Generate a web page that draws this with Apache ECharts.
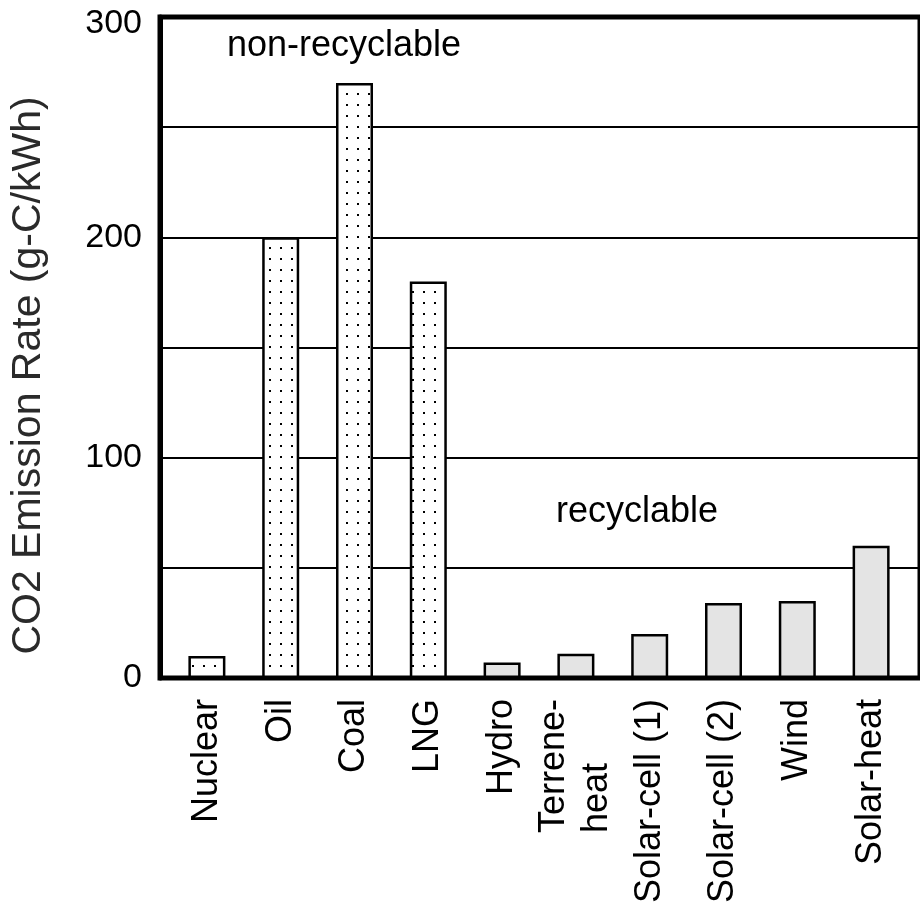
<!DOCTYPE html>
<html><head><meta charset="utf-8">
<script src="https://cdn.jsdelivr.net/npm/echarts@6/dist/echarts.min.js"></script>
<style>html,body{margin:0;padding:0;background:#fff}#c{width:920px;height:909px}</style>
</head><body><div id="c"></div>
<script>
// ---- data ----
const categories = ['Nuclear','Oil','Coal','LNG','Hydro','Terrene-\nheat','Solar-cell (1)','Solar-cell (2)','Wind','Solar-heat'];
const emissions = [10, 200, 270, 180, 7, 11, 20, 34, 35, 60];
const isRecyclable = [false, false, false, false, true, true, true, true, true, true];
const yMin = 0, yMax = 300, yStep = 50, yLabelStep = 100;
const yAxisTitle = 'CO2 Emission Rate (g-C/kWh)';
const groupLabels = ['non-recyclable', 'recyclable'];

// ---- styles ----
const pc = document.createElement('canvas');
pc.width = 11; pc.height = 11;
const pctx = pc.getContext('2d');
pctx.fillStyle = '#fff'; pctx.fillRect(0, 0, 11, 11);
pctx.fillStyle = '#000'; pctx.fillRect(5, 5, 2, 2);
const dotted = { image: pc, repeat: 'repeat' };
const lightGray = '#e4e4e4';
const FONT = 'Liberation Sans';

const chart = echarts.init(document.getElementById('c'), null, { renderer: 'canvas' });

const barData = emissions.map((v, i) => ({
  value: v,
  itemStyle: { color: isRecyclable[i] ? lightGray : dotted, borderColor: '#000', borderWidth: 2.5 }
}));

chart.setOption({
  animation: false,
  backgroundColor: '#fff',
  grid: [
    { left: 155, top: 17, width: 770, bottom: 231, show: true, borderColor: '#000', borderWidth: 5, backgroundColor: 'transparent' },
    { left: 170, top: 17, right: 12, bottom: 231 }
  ],
  xAxis: [
    { gridIndex: 0, type: 'value', show: false },
    {
      gridIndex: 1, type: 'category', data: categories,
      axisLine: { show: false }, axisTick: { show: false },
      axisLabel: {
        interval: 0, rotate: 90, margin: 21,
        formatter: v => v.split('\n').map(s => '{l|' + s + '}').join('\n'),
        rich: { l: { align: 'left', fontFamily: FONT, fontSize: 36, lineHeight: 43, color: '#000' } }
      }
    }
  ],
  yAxis: [
    {
      gridIndex: 0, type: 'value', min: yMin, max: yMax, interval: yStep,
      name: yAxisTitle, nameLocation: 'middle', nameGap: 111,
      nameTextStyle: { fontFamily: FONT, fontSize: 41, color: '#2a2a2a', padding: [0, 56, 0, 0] },
      axisLine: { show: true, lineStyle: { color: '#000', width: 5 } },
      axisTick: { show: false },
      axisLabel: {
        margin: 18,
        formatter: v => (v % yLabelStep !== 0 ? '' : (v === yMax ? '{top|' + v + '}' : '{n|' + v + '}')),
        rich: {
          n: { fontFamily: FONT, fontSize: 34, color: '#000' },
          top: { fontFamily: FONT, fontSize: 34, color: '#000', padding: [14, 0, 0, 0] }
        }
      },
      splitLine: { show: true, lineStyle: { color: '#000', width: 2 } }
    },
    { gridIndex: 1, type: 'value', min: yMin, max: yMax, show: false, splitLine: { show: false } }
  ],
  series: [{
    type: 'bar', xAxisIndex: 1, yAxisIndex: 1,
    barWidth: 37, data: barData
  }],
  graphic: [
    { type: 'text', position: [344, 46], style: { text: groupLabels[0], textAlign: 'center', textVerticalAlign: 'middle', font: '36px "Liberation Sans"', fill: '#000' } },
    { type: 'text', position: [637, 512], style: { text: groupLabels[1], textAlign: 'center', textVerticalAlign: 'middle', font: '36px "Liberation Sans"', fill: '#000' } }
  ]
});
</script></body></html>
